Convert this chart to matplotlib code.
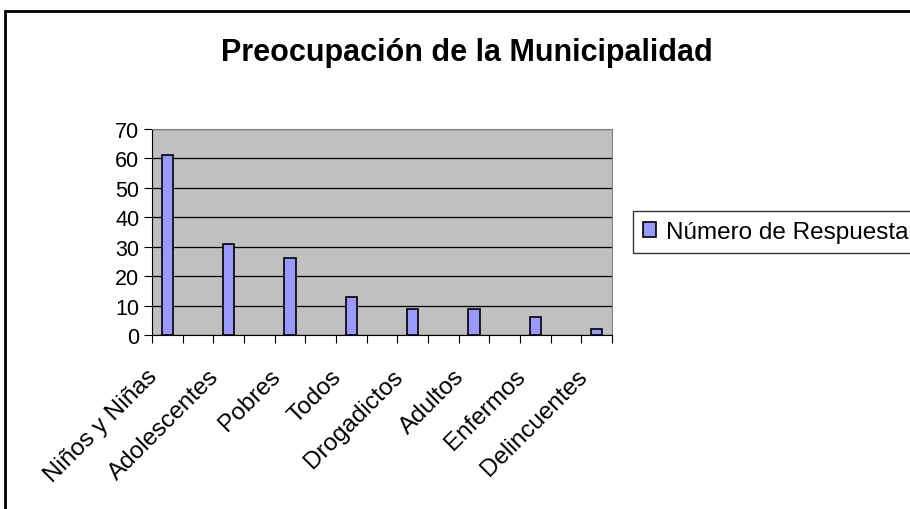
import numpy as np
import matplotlib.pyplot as plt
import matplotlib.transforms as mtransforms
from matplotlib.patches import Rectangle

plt.rcParams['font.family'] = ['Liberation Sans', 'DejaVu Sans']

categories = ['Niños y Niñas', 'Adolescentes', 'Pobres', 'Todos',
              'Drogadictos', 'Adultos', 'Enfermos', 'Delincuentes']
respuestas = [61, 31, 26, 13, 9, 9, 6, 2]
yticks = [0, 10, 20, 30, 40, 50, 60, 70]

fig = plt.figure(figsize=(9.1, 5.1), dpi=100)
ax = fig.add_axes([152 / 910, 1 - 336 / 510, 460 / 910, 206 / 510])

# categories sit on every other slot, as in the source sheet
positions = np.arange(len(categories)) * 2
ax.bar(positions, respuestas, width=0.38, color='#9999FF',
       edgecolor='black', linewidth=1.2, zorder=3,
       label='Número de Respuesta')

ax.set_facecolor('#C0C0C0')
ax.set_xlim(-0.5, 2 * len(categories) - 1.5)
ax.set_ylim(0, 70)
ax.set_yticks(yticks)
ax.yaxis.grid(True, color='black', linewidth=0.9, zorder=1)
ax.set_axisbelow(True)
ax.tick_params(axis='y', labelsize=15.5, length=6, direction='out', pad=3)

# boundaries carry the tick marks, labels on the bars
ax.set_xticks(np.arange(-0.5, 2 * len(categories) - 1, 1.0))
ax.set_xticklabels([])
ax.tick_params(axis='x', which='major', length=6, direction='out')
ax.set_xticks(positions, minor=True)
ax.set_xticklabels(categories, minor=True, rotation=45, ha='right',
                   va='center', rotation_mode='anchor', fontsize=17.5)
ax.tick_params(axis='x', which='minor', length=0, pad=27)
shift = mtransforms.ScaledTranslation(-0.13, 0, fig.dpi_scale_trans)
for lbl in ax.get_xticklabels(minor=True):
    lbl.set_transform(lbl.get_transform() + shift)

for side in ['top', 'right']:
    ax.spines[side].set_color('#808080')
for side in ['left', 'bottom']:
    ax.spines[side].set_color('black')

fig.text(0.513, 1 - 53 / 510, 'Preocupación de la Municipalidad',
         ha='center', va='center', fontsize=22, fontweight='bold')

leg = ax.legend(loc='center left', bbox_to_anchor=(633 / 910, 1 - 233 / 510),
                bbox_transform=fig.transFigure, fontsize=17.5, frameon=True,
                fancybox=False, edgecolor='black', handlelength=0.55,
                handleheight=0.55, handletextpad=0.4, borderpad=0.4,
                borderaxespad=0)
leg.get_frame().set_linewidth(1.0)

fig.patches.append(Rectangle((5 / 910, -0.1), 1.0, 1 - 12 / 510 + 0.1,
                             transform=fig.transFigure, fill=False,
                             edgecolor='black', linewidth=2))

fig.savefig('out.png', dpi=100)
